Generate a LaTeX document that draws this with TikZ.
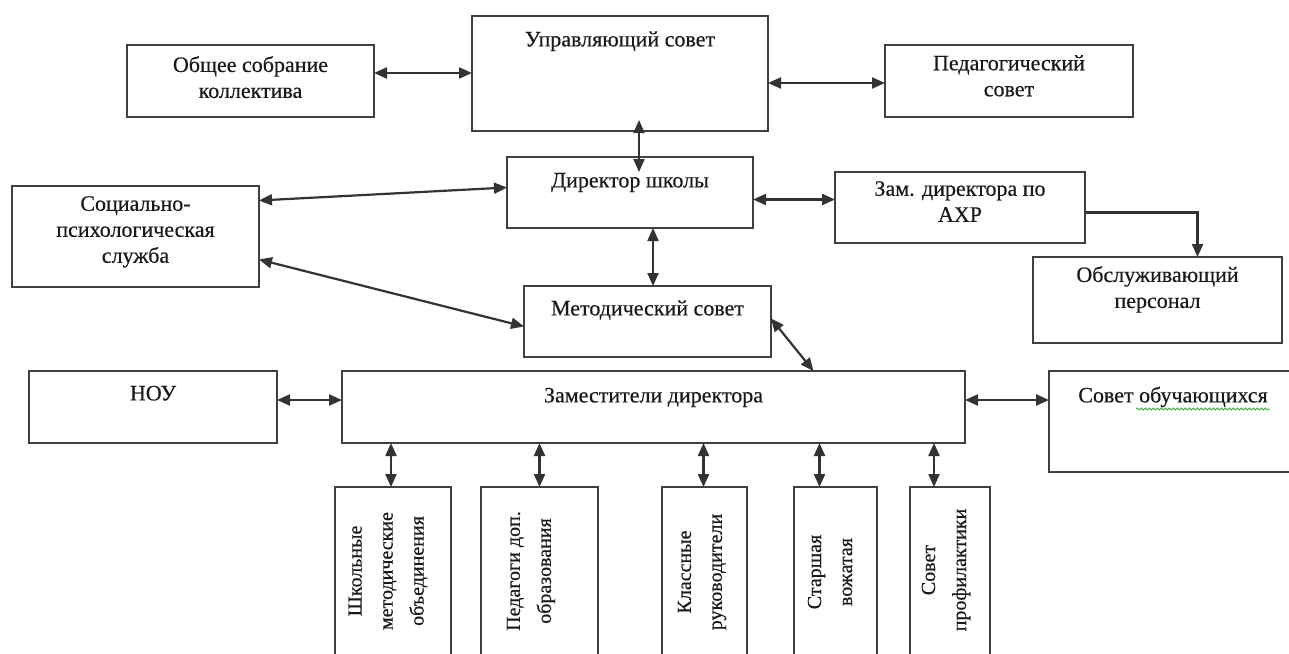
\documentclass[tikz,border=0pt]{standalone}
\usepackage{fontspec}
\setmainfont{Liberation Serif}[FakeBold=0.4]
\usetikzlibrary{arrows.meta,decorations.pathmorphing}
\begin{document}
\begin{tikzpicture}[x=1pt,y=-1pt,
  >={Triangle[length=13pt,width=11pt]},
  box/.style={draw=black!75,line width=2.2pt,inner sep=0pt,outer sep=0pt,anchor=north west,fill=white},
  txt/.style={font=\fontsize{22}{26}\selectfont,align=center,inner sep=0pt,anchor=north,text=black!90,execute at begin node=\strut},
  vtxt/.style={font=\fontsize{20}{31}\selectfont,align=center,inner sep=0pt,rotate=90,text=black!90},
  conn/.style={line width=2.2pt,draw=black!80}]
\useasboundingbox (0,0) rectangle (1289,653);
\fill[white] (0,0) rectangle (1289,653);
\clip (0,0) rectangle (1289,653);
% boxes
\node[box,minimum width=247pt,minimum height=72pt] (obs) at (127,45) {};
\node[box,minimum width=296pt,minimum height=115pt] (upr) at (472,16) {};
\node[box,minimum width=248pt,minimum height=72pt] (ped) at (885,45) {};
\node[box,minimum width=246pt,minimum height=71pt] (dir) at (507,157) {};
\node[box,minimum width=247pt,minimum height=101pt] (soc) at (12,186) {};
\node[box,minimum width=250pt,minimum height=71pt] (ahr) at (835,172) {};
\node[box,minimum width=249pt,minimum height=86pt] (obsl) at (1033,257) {};
\node[box,minimum width=247pt,minimum height=71pt] (met) at (524,286) {};
\node[box,minimum width=248pt,minimum height=72pt] (nou) at (29,371) {};
\node[box,minimum width=623pt,minimum height=72pt] (zam) at (342,371) {};
\node[box,minimum width=248pt,minimum height=101pt] (sob) at (1049,371) {};
\node[box,minimum width=116pt,minimum height=200pt] (b1) at (335,487) {};
\node[box,minimum width=117pt,minimum height=200pt] (b2) at (481,487) {};
\node[box,minimum width=85pt,minimum height=200pt] (b3) at (662,487) {};
\node[box,minimum width=83pt,minimum height=200pt] (b4) at (794,487) {};
\node[box,minimum width=80pt,minimum height=200pt] (b5) at (910,487) {};
% texts
\node[txt] (obsT) at ([yshift=-11pt]obs.north) {Общее собрание\\коллектива};
\node[txt] (uprT) at ([yshift=-12pt]upr.north) {Управляющий совет};
\node[txt] (pedT) at ([yshift=-10pt]ped.north) {Педагогический\\совет};
\node[txt] (dirT) at ([yshift=-12pt]dir.north) {Директор школы};
\node[txt] (socT) at ([yshift=-10pt]soc.north) {Социально-\\психологическая\\служба};
\node[txt] (ahrT) at ([yshift=-9pt]ahr.north) {Зам. директора по\\АХР};
\node[txt] (obslT) at ([yshift=-9pt]obsl.north) {Обслуживающий\\персонал};
\node[txt] (metT) at ([yshift=-11pt]met.north) {Методический совет};
\node[txt] (nouT) at ([yshift=-11pt]nou.north) {НОУ};
\node[txt] (zamT) at ([yshift=-13pt]zam.north) {Заместители директора};
\node[txt] (sobT) at ([yshift=-13pt]sob.north) {Совет обучающихся};
\node[vtxt] (b1T) at (388,571) {Школьные\\методические\\объединения};
\node[vtxt] (b2T) at (531,571) {Педагоги доп.\\образования};
\node[vtxt] (b3T) at (702,572) {Классные\\руководители};
\node[vtxt] (b4T) at (830,572) {Старшая\\вожатая};
\node[vtxt] (b5T) at (946,570) {Совет\\профилактики};
% spell-check squiggle
\draw[green!55!black!75,line width=0.8pt,decorate,decoration={snake,amplitude=1pt,segment length=4pt}] (1136,409) -- (1270,409);
% connectors
\coordinate (c1) at ([yshift=8pt]obs.east);
\draw[conn,<->] (c1) -- (c1 -| upr.west);
\coordinate (c2) at ([yshift=-2pt]ped.west);
\draw[conn,<->] (c2 -| upr.east) -- (c2);
\coordinate (c3) at ([xshift=9pt]dir.north);
\coordinate (c3a) at (c3 |- upr.south);
\draw[conn,<->] ([yshift=11pt]c3a) -- ([yshift=-15pt]c3);
\draw[conn,<->] ([yshift=36pt]soc.east) -- ([yshift=5pt]dir.west);
\coordinate (c4) at ([yshift=8pt]ahr.west);
\draw[conn,<->] (c4 -| dir.east) -- (c4);
\coordinate (c5) at ([yshift=-5pt]ahr.east);
\coordinate (c6) at ([xshift=40pt]obsl.north);
\draw[conn,->] (c5) -| (c6);
\coordinate (c7) at ([xshift=23pt]dir.south);
\draw[conn,<->] (c7) -- (c7 |- met.north);
\draw[conn,<->] ([yshift=-23pt]soc.east) -- ([yshift=-5pt]met.west);
\draw[conn,<->] ([yshift=3pt]met.east) -- ([xshift=160pt]zam.north);
\coordinate (c8) at ([yshift=7pt]zam.west);
\draw[conn,<->] (c8 -| nou.east) -- (c8);
\coordinate (c9) at ([yshift=7pt]zam.east);
\draw[conn,<->] (c9) -- (c9 -| sob.west);
\coordinate (d1) at ([xshift=-2pt]b1.north);
\draw[conn,<->] (d1 |- zam.south) -- (d1);
\coordinate (d2) at (b2.north);
\draw[conn,<->] (d2 |- zam.south) -- (d2);
\coordinate (d3) at ([xshift=-1pt]b3.north);
\draw[conn,<->] (d3 |- zam.south) -- (d3);
\coordinate (d4) at ([xshift=-16pt]b4.north);
\draw[conn,<->] (d4 |- zam.south) -- (d4);
\coordinate (d5) at ([xshift=-16pt]b5.north);
\draw[conn,<->] (d5 |- zam.south) -- (d5);
\end{tikzpicture}
\end{document}
